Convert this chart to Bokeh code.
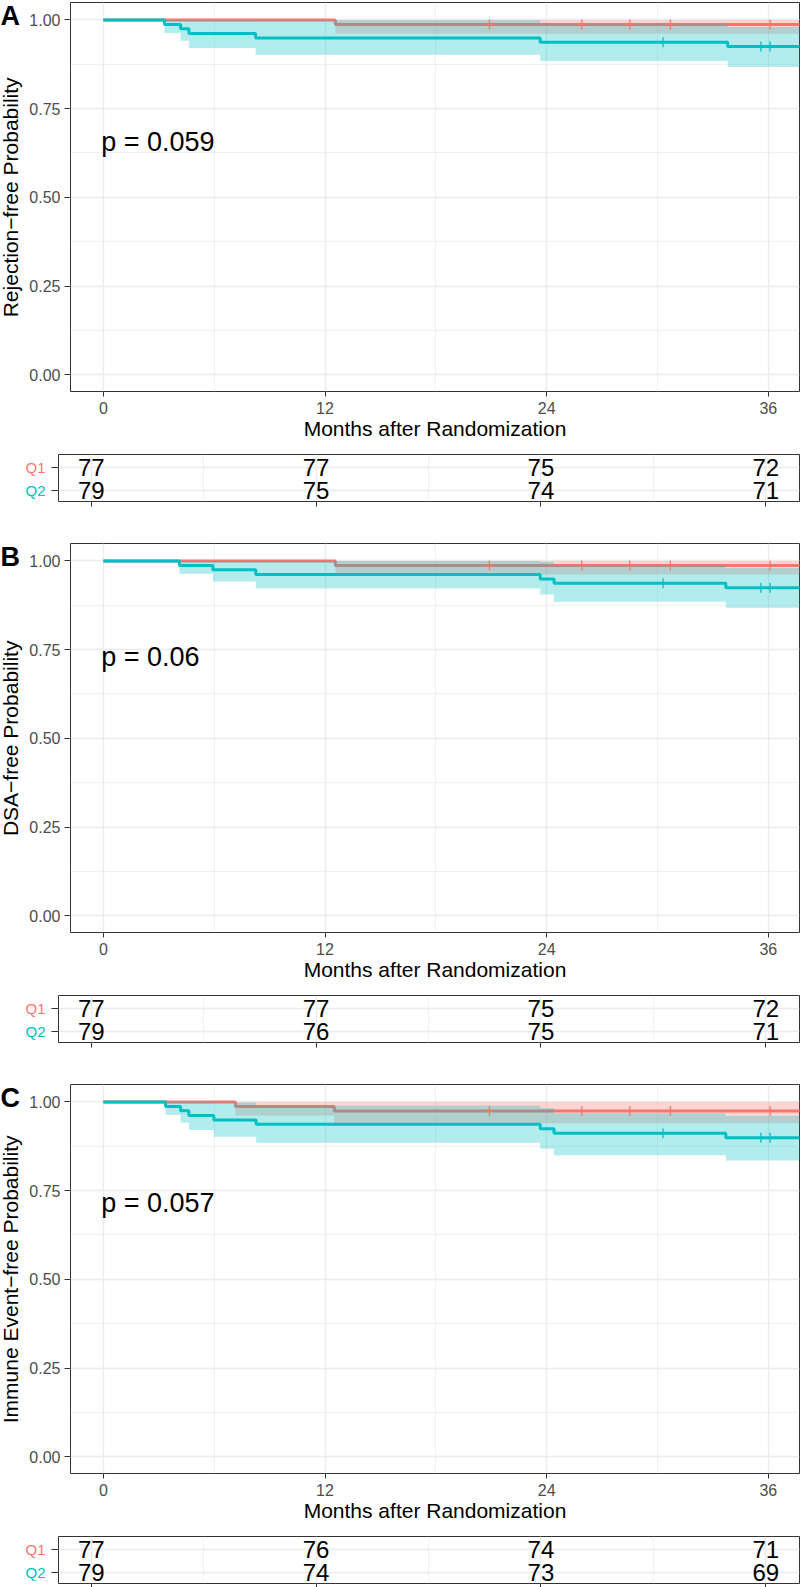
import math
from bokeh.plotting import figure
from bokeh.models import FixedTicker, PrintfTickFormatter, Range1d
from bokeh.layouts import column, row
from bokeh.embed import file_html
from bokeh.resources import INLINE
from bokeh.core.properties import value

FONT = "Liberation Sans"
RED = "#F8766D"
CYAN = "#00BFC4"
T_END = 38.5

# ---------------- data ----------------
panel_letters = ["A", "B", "C"]
y_titles = ["Rejection\u2212free Probability", "DSA\u2212free Probability", "Immune Event\u2212free Probability"]
p_texts = ["p = 0.059", "p = 0.06", "p = 0.057"]
p_y = [0.655, 0.73, 0.715]

# Panel A
A_q1_time = [0, 12.56]
A_q1_surv = [1.0, 0.987]
A_q1_lower = [1.0, 0.961]
A_q1_upper = [1.0, 1.0]
A_q1_censor = [20.9, 25.9, 28.5, 30.7, 36.1]
A_q2_time = [0, 3.31, 4.18, 4.63, 8.24, 23.65, 33.8]
A_q2_surv = [1.0, 0.987, 0.975, 0.962, 0.949, 0.937, 0.925]
A_q2_lower = [1.0, 0.963, 0.941, 0.921, 0.902, 0.884, 0.867]
A_q2_upper = [1.0, 1.0, 1.0, 1.0, 0.999, 0.99, 0.98]
A_q2_censor = [30.3, 35.6, 36.1]

# Panel B
B_q1_time = [0, 12.56]
B_q1_surv = [1.0, 0.987]
B_q1_lower = [1.0, 0.962]
B_q1_upper = [1.0, 1.0]
B_q1_censor = [20.9, 25.9, 28.5, 30.7, 36.1]
B_q2_time = [0, 4.12, 5.93, 8.25, 23.65, 24.4, 33.7]
B_q2_surv = [1.0, 0.987, 0.975, 0.962, 0.949, 0.937, 0.924]
B_q2_lower = [1.0, 0.964, 0.942, 0.922, 0.905, 0.885, 0.868]
B_q2_upper = [1.0, 1.0, 1.0, 1.0, 0.997, 0.988, 0.98]
B_q2_censor = [30.3, 35.6, 36.1]

# Panel C
C_q1_time = [0, 7.15, 12.5]
C_q1_surv = [1.0, 0.987, 0.974]
C_q1_lower = [1.0, 0.962, 0.94]
C_q1_upper = [1.0, 1.0, 1.0]
C_q1_censor = [20.9, 25.9, 28.5, 30.7, 36.1]
C_q2_time = [0, 3.37, 4.18, 4.63, 5.98, 8.27, 23.65, 24.4, 33.7]
C_q2_surv = [1.0, 0.987, 0.975, 0.962, 0.949, 0.937, 0.924, 0.912, 0.899]
C_q2_lower = [1.0, 0.963, 0.942, 0.921, 0.902, 0.885, 0.868, 0.85, 0.835]
C_q2_upper = [1.0, 1.0, 1.0, 1.0, 0.998, 0.99, 0.983, 0.968, 0.96]
C_q2_censor = [30.3, 35.6, 36.1]

# Numbers at risk
risk_times = [0, 12, 24, 36]
groups = ["Q1", "Q2"]
A_risk_q1 = [77, 77, 75, 72]
A_risk_q2 = [79, 75, 74, 71]
B_risk_q1 = [77, 77, 75, 72]
B_risk_q2 = [79, 76, 75, 71]
C_risk_q1 = [77, 76, 74, 71]
C_risk_q2 = [79, 74, 73, 69]

panels = [
    dict(q1=(A_q1_time, A_q1_surv, A_q1_lower, A_q1_upper, A_q1_censor),
         q2=(A_q2_time, A_q2_surv, A_q2_lower, A_q2_upper, A_q2_censor),
         risk=(A_risk_q1, A_risk_q2)),
    dict(q1=(B_q1_time, B_q1_surv, B_q1_lower, B_q1_upper, B_q1_censor),
         q2=(B_q2_time, B_q2_surv, B_q2_lower, B_q2_upper, B_q2_censor),
         risk=(B_risk_q1, B_risk_q2)),
    dict(q1=(C_q1_time, C_q1_surv, C_q1_lower, C_q1_upper, C_q1_censor),
         q2=(C_q2_time, C_q2_surv, C_q2_lower, C_q2_upper, C_q2_censor),
         risk=(C_risk_q1, C_risk_q2)),
]


def step_expand(t, v, t_end):
    xs, ys = [], []
    for i in range(len(t)):
        x1 = t[i + 1] if i + 1 < len(t) else t_end
        xs += [t[i], x1]
        ys += [v[i], v[i]]
    return xs, ys


def surv_at(t, v, x):
    s = v[0]
    for ti, vi in zip(t, v):
        if ti <= x:
            s = vi
    return s


def style_axes(p, tick_font="16px"):
    for ax in (p.xaxis + p.yaxis):
        ax.axis_line_color = None
        ax.major_tick_line_color = "#333333"
        ax.major_tick_line_width = 1
        ax.minor_tick_line_color = None
        ax.major_tick_in = 0
        ax.major_label_text_font = FONT
        ax.major_label_text_font_size = tick_font
        ax.major_label_text_color = "#4D4D4D"
        ax.axis_label_text_font = FONT
        ax.axis_label_text_font_style = "normal"
        ax.axis_label_text_color = "black"
    for g in (p.xgrid + p.ygrid):
        g.grid_line_color = "#EBEBEB"
        g.grid_line_width = 1.3
        g.minor_grid_line_color = "#EBEBEB"
        g.minor_grid_line_width = 0.7
    p.outline_line_color = "#333333"
    p.outline_line_width = 1
    p.background_fill_color = "white"
    p.border_fill_color = "white"


def strip(width, height, top, bottom, y_range):
    s = figure(width=width, height=height, x_range=Range1d(0, width), y_range=y_range,
               output_backend="svg", toolbar_location=None,
               x_axis_location=None, y_axis_location=None,
               min_border_left=0, min_border_right=0,
               min_border_top=top, min_border_bottom=bottom)
    s.xgrid.visible = False
    s.ygrid.visible = False
    s.outline_line_color = None
    s.background_fill_color = "white"
    s.border_fill_color = "white"
    return s


FRAME_H = 389
KM_BOTTOM = 58
RISK_TOP = 5
RISK_H = 47
KM_STRIP_W = 26
RISK_STRIP_W = 50
KM_YR = (-0.047, 1.049)
RISK_YR = (0.5, 2.55)

rows = []
for i, pan in enumerate(panels):
    top_b = 2 if i == 0 else 1
    km_h = top_b + FRAME_H + KM_BOTTOM
    p = figure(width=800 - KM_STRIP_W, height=km_h,
               x_range=Range1d(-1.78, 37.69), y_range=Range1d(*KM_YR),
               output_backend="svg", toolbar_location=None,
               min_border_left=68 - KM_STRIP_W, min_border_right=1,
               min_border_top=top_b, min_border_bottom=KM_BOTTOM)
    p.xaxis.ticker = FixedTicker(ticks=risk_times, minor_ticks=[6, 18, 30])
    p.yaxis.ticker = FixedTicker(ticks=[0, 0.25, 0.5, 0.75, 1.0],
                                 minor_ticks=[0.125, 0.375, 0.625, 0.875])
    p.yaxis.formatter = PrintfTickFormatter(format="%.2f")
    style_axes(p)
    p.xaxis.major_tick_out = 5
    p.yaxis.major_tick_out = 6
    p.xaxis.major_label_standoff = 5
    p.yaxis.major_label_standoff = 4
    p.xaxis.axis_label = "Months after Randomization"
    p.xaxis.axis_label_text_font_size = "21px"
    p.xaxis.axis_label_standoff = 0

    for key, col in (("q1", RED), ("q2", CYAN)):
        t, s, lo, up, cens = pan[key]
        bx, blo = step_expand(t, lo, T_END)
        _, bup = step_expand(t, up, T_END)
        p.varea(x=bx, y1=blo, y2=bup, fill_color=col, fill_alpha=0.3)
        lx, ly = step_expand(t, s, T_END)
        p.line(lx, ly, line_color=col, line_width=3)
    for key, col in (("q1", RED), ("q2", CYAN)):
        t, s, lo, up, cens = pan[key]
        cy = [surv_at(t, s, c) for c in cens]
        p.scatter(cens, cy, marker="cross", size=10, line_color=col, line_width=1.3)

    p.text(x=[-0.12], y=[p_y[i]], text=[p_texts[i]], text_font=value(FONT),
           text_font_size="27px", text_align="left", text_baseline="middle",
           text_color="black")

    # left strip with panel letter and y-axis title
    ls = strip(KM_STRIP_W, km_h, top_b, KM_BOTTOM, Range1d(*KM_YR))
    ls.text(x=[0], y=[1.012], text=[panel_letters[i]], text_font=value(FONT),
            text_font_size="27px", text_font_style="bold", text_color="black",
            text_align="left", text_baseline="middle")
    ls.text(x=[10], y=[0.5], text=[y_titles[i]], text_font=value(FONT),
            text_font_size="21px", text_color="black", angle=math.pi / 2,
            text_align="center", text_baseline="middle")
    rows.append(row(ls, p))

    last = (i == 2)
    bb = 4 if last else 41
    rk_h = RISK_TOP + RISK_H + bb
    r = figure(width=800 - RISK_STRIP_W, height=rk_h,
               x_range=Range1d(-1.75, 37.8), y_range=Range1d(*RISK_YR),
               output_backend="svg", toolbar_location=None,
               min_border_left=58 - RISK_STRIP_W, min_border_right=1,
               min_border_top=RISK_TOP, min_border_bottom=bb)
    r.xaxis.ticker = FixedTicker(ticks=risk_times, minor_ticks=[6, 18, 30])
    r.yaxis.ticker = FixedTicker(ticks=[1, 2], minor_ticks=[])
    style_axes(r, tick_font="0px")
    r.xaxis.major_tick_out = 4 if last else 5
    r.yaxis.major_tick_out = 7
    r.xaxis.major_label_standoff = 0
    r.yaxis.major_label_standoff = 0
    r.xaxis.major_label_overrides = {0: "", 12: "", 24: "", 36: ""}
    r.yaxis.major_label_overrides = {1: "", 2: ""}
    rq1, rq2 = pan["risk"]
    r.text(x=risk_times, y=[2] * len(risk_times), text=[str(v) for v in rq1],
           text_font=value(FONT), text_font_size="24px", text_align="center",
           text_baseline="middle", text_color="black")
    r.text(x=risk_times, y=[1] * len(risk_times), text=[str(v) for v in rq2],
           text_font=value(FONT), text_font_size="24px", text_align="center",
           text_baseline="middle", text_color="black")

    rs = strip(RISK_STRIP_W, rk_h, RISK_TOP, bb, Range1d(*RISK_YR))
    rs.text(x=[45, 45], y=[2, 1], text=groups, text_font=value(FONT),
            text_font_size="15px", text_color=[RED, CYAN],
            text_align="right", text_baseline="middle")
    rows.append(row(rs, r))

layout = column(*rows)
open("out.html", "w").write(file_html(layout, INLINE))
